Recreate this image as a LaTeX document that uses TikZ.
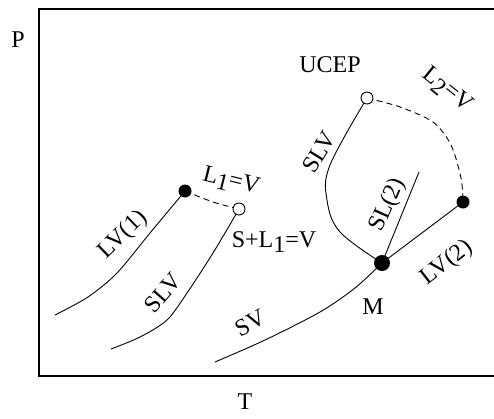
\documentclass[tikz,border=0pt]{standalone}
\usepackage{fontspec}
\setmainfont{Liberation Serif}
\usetikzlibrary{positioning}

\begin{document}
\begin{tikzpicture}[
  x=1pt, y=-1pt,
  curve/.style={line width=0.9pt},
  tie/.style={line width=0.9pt, dash pattern=on 6pt off 4pt},
  fullpt/.style={circle, fill, inner sep=0pt, minimum size=13pt},
  openpt/.style={circle, draw, line width=0.9pt, fill=white, inner sep=0pt, minimum size=12pt},
  lab/.style={font=\fontsize{24}{26}\selectfont, inner sep=1pt}
]
\useasboundingbox (0,0) rectangle (494,418);
\draw[line width=1.3pt] (39,9) rectangle (520,376);

% points of the diagram
\coordinate (qA) at (185,191);
\coordinate (qB) at (239,209);
\coordinate (ucep) at (367,98);
\coordinate (m) at (382,263);
\coordinate (qC) at (463,202);
\coordinate (lv1s) at (55,315);
\coordinate (slvs) at (111,349);
\coordinate (svs) at (215,362);
\coordinate (sl2e) at (419,172);

% curves
\draw[curve] plot[smooth] coordinates {(lv1s) (88,297) (117,273) (150,233) (qA)};
\draw[curve] plot[smooth] coordinates {(slvs) (140,337) (167,320) (187,293) (213,253) (qB)};
\draw[curve] plot[smooth] coordinates {(svs) (265,340) (320,312) (355,288) (m)};
\draw[curve] plot[smooth, tension=0.6] coordinates {(m) (340,232) (327,200) (330,165) (ucep)};
\draw[curve] (m) -- (sl2e);
\draw[curve] (m) -- (qC);
\draw[tie] plot[smooth] coordinates {(qA) (213,202) (qB)};
\draw[tie] plot[smooth] coordinates {(ucep) (400,107) (433,122) (451,145) (461,178) (qC)};

% dots
\node[fullpt] at (qA) {};
\node[openpt] at (qB) {};
\node[openpt] at (ucep) {};
\node[fullpt, minimum size=16pt] at (m) {};
\node[fullpt] at (qC) {};

% labels
\node[lab] (p) at (18,40) {P};
\node[lab] (t) at (245,402) {T};
\node[lab] (ucepl) at (330,65) {UCEP};
\node[lab] (ml) at (373,307) {M};
\node[lab, rotate=28] (svl) at (250,323) {SV};
\node[lab] (sl1v) at (274,242) {S+L\raisebox{-5pt}{1}=V};
\node[lab, rotate=44] (lv1l) at (123,235) {LV(1)};
\node[lab, rotate=49] (slvl) at (163,293) {SLV};
\node[lab, rotate=-14] (l1v) at (231,182) {L\raisebox{-5pt}{1}=V};
\node[lab, rotate=58] (slvr) at (319,152) {SLV};
\node[lab, rotate=66] (sl2l) at (388,205) {SL(2)};
\node[lab, rotate=38] (lv2l) at (447,263) {LV(2)};
\node[lab, rotate=-39] (l2v) at (447,90) {L\raisebox{-5pt}{2}=V};
\end{tikzpicture}
\end{document}
